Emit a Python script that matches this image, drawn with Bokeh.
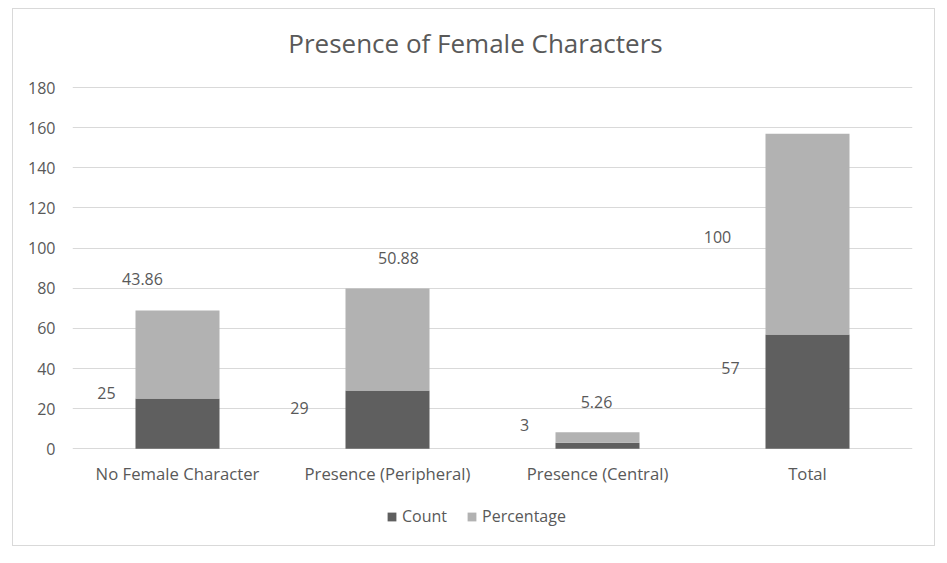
from bokeh.plotting import figure
from bokeh.models import Range1d, FixedTicker, Legend, LegendItem, ColumnDataSource
from bokeh.embed import file_html
from bokeh.resources import INLINE
from bokeh.core.properties import value

# ---- data ----
title_text = "Presence of Female Characters"
categories = ["No Female Character", "Presence (Peripheral)", "Presence (Central)", "Total"]
count = [25, 29, 3, 57]
percentage = [43.86, 50.88, 5.26, 100]
count_labels = ["25", "29", "3", "57"]
percentage_labels = ["43.86", "50.88", "5.26", "100"]
y_ticks = [0, 20, 40, 60, 80, 100, 120, 140, 160, 180]

# ---- layout / style (label nudges in screen pixels) ----
count_dx = [-71, -88, -73, -77]
count_dy = [-6, 17, -18, 34]
pct_dx = [-35, 11, -1, -90]
pct_dy = [-32, -30, -30, 103]

FONT = "Open Sans"
TXT = "#595959"
DARK = "#5f5f5f"
LIGHT = "#b2b2b2"
GRID = "#d9d9d9"

W, H = 923, 538
LEFT, RIGHT = 59, 24
# pixel geometry of the value axis inside the canvas
ZERO_PX = 439.3      # canvas y of value 0
TOP_PX = 78.0        # canvas y of value 180
ppu = (ZERO_PX - TOP_PX) / 180.0
y_hi = 180 + TOP_PX / ppu
y_lo = -(H - ZERO_PX) / ppu

xs = [i + 0.5 for i in range(len(categories))]
stack_top = [c + q for c, q in zip(count, percentage)]

src = ColumnDataSource(dict(
    x=xs, count=count, pct=percentage, top=stack_top,
    clab=count_labels, plab=percentage_labels,
    cdx=count_dx, cdy=count_dy, pdx=pct_dx, pdy=pct_dy,
    cat=categories, zero=[0] * len(categories),
))

p = figure(width=W, height=H, output_backend="svg", toolbar_location=None,
           x_range=Range1d(0, len(categories)), y_range=Range1d(y_lo, y_hi),
           x_axis_location=None,
           min_border_left=LEFT, min_border_right=RIGHT, min_border_top=0, min_border_bottom=0)
p.styles = {"border": "1px solid #d9d9d9", "margin-left": "12px", "margin-top": "8px"}
p.outline_line_color = None
p.background_fill_color = "white"
p.border_fill_color = "white"

r_count = p.vbar(x="x", width=0.4, bottom=0, top="count", source=src,
                 fill_color=DARK, line_color=None)
r_pct = p.vbar(x="x", width=0.4, bottom="count", top="top", source=src,
               fill_color=LIGHT, line_color=None)

# data labels
p.text(x="x", y="count", text="clab", x_offset="cdx", y_offset="cdy", source=src,
       text_font=value(FONT), text_font_size="16px", text_color=TXT,
       text_align="center", text_baseline="middle")
p.text(x="x", y="top", text="plab", x_offset="pdx", y_offset="pdy", source=src,
       text_font=value(FONT), text_font_size="16px", text_color=TXT,
       text_align="center", text_baseline="middle")

# category labels under the bars
p.text(x="x", y="zero", text="cat", y_offset=25, source=src,
       text_font=value(FONT), text_font_size="16.7px", text_color=TXT,
       text_align="center", text_baseline="middle")

# chart title
p.text(x=[len(categories) / 2], y=[180], text=[title_text], x_offset=-17, y_offset=-45,
       text_font=value(FONT), text_font_size="26px", text_color=TXT,
       text_align="center", text_baseline="middle")

# value axis
p.xgrid.grid_line_color = None
p.ygrid.grid_line_color = GRID
p.ygrid.grid_line_width = 1
p.yaxis.ticker = FixedTicker(ticks=y_ticks)
p.yaxis.axis_line_color = None
p.yaxis.major_tick_line_color = None
p.yaxis.minor_tick_line_color = None
p.yaxis.major_tick_out = 0
p.yaxis.major_tick_in = 0
p.yaxis.major_label_text_font = FONT
p.yaxis.major_label_text_color = TXT
p.yaxis.major_label_text_font_size = "16px"
p.yaxis.major_label_standoff = 17

# legend
legend = Legend(items=[LegendItem(label="Count", renderers=[r_count]),
                       LegendItem(label="Percentage", renderers=[r_pct])],
                orientation="horizontal", location=(314, 20),
                glyph_width=11, glyph_height=11, label_standoff=5, spacing=19,
                label_text_font=FONT, label_text_font_size="16px", label_text_color=TXT,
                border_line_color=None, background_fill_alpha=0, padding=0, margin=0)
p.add_layout(legend, "center")

open("out.html", "w").write(file_html(p, INLINE))
